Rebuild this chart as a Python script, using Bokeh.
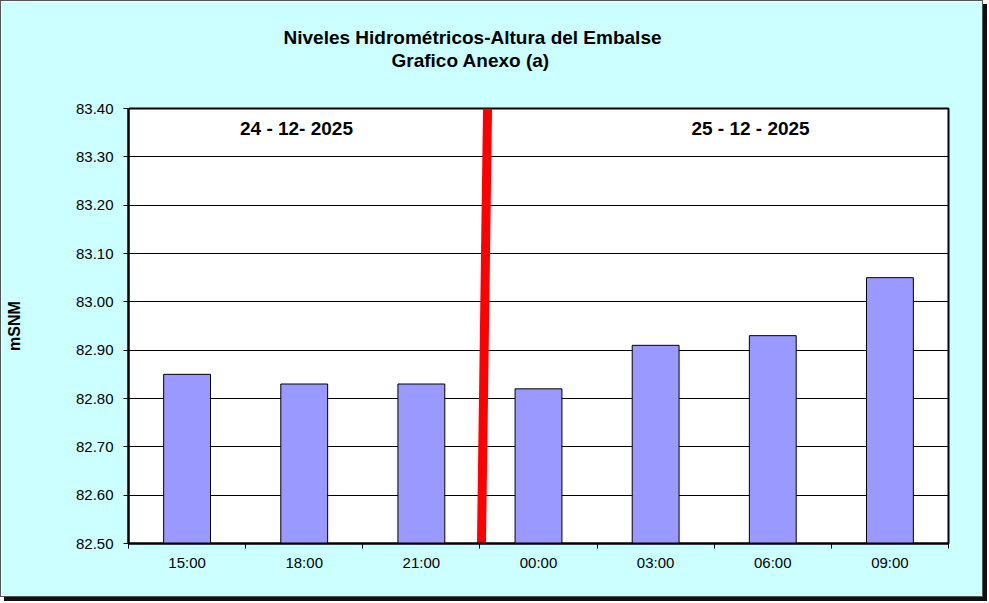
from bokeh.plotting import figure
from bokeh.models import Range1d, FixedTicker, Label, NumeralTickFormatter, Title, LinearAxis
from bokeh.embed import file_html
from bokeh.resources import INLINE

times = ["15:00", "18:00", "21:00", "00:00", "03:00", "06:00", "09:00"]
levels = [82.85, 82.83, 82.83, 82.82, 82.91, 82.93, 83.05]
y_ticks = [82.5, 82.6, 82.7, 82.8, 82.9, 83.0, 83.1, 83.2, 83.3, 83.4]
separator_x = [3.065, 3.013]
date_labels = ["24 - 12- 2025", "25 - 12 - 2025"]
date_label_x = [1.434, 5.31]
title_lines = ["Niveles Hidrométricos-Altura del Embalse", "Grafico Anexo (a)"]

FONT = "Liberation Sans"
BG = "#CCFFFF"
ymin, ymax = 82.5, 83.4
ppu = 435 / (ymax - ymin)

p = figure(width=983, height=597, output_backend="svg", toolbar_location=None,
           title_location=None,
           x_range=Range1d(0, len(times)), y_range=Range1d(ymin, ymax),
           min_border_left=127, min_border_right=36, min_border_top=107, min_border_bottom=55)
p.styles = {"border": "1px solid #555555", "box-shadow": "4px 4px 0 #111111"}
p.border_fill_color = BG
p.background_fill_color = "white"
p.outline_line_color = "black"
p.outline_line_width = 2

centers = [i + 0.5 for i in range(len(times))]
p.vbar(x=centers, top=levels, bottom=ymin, width=0.4, fill_color="#9999FF",
       line_color="black", line_width=1)

p.line(x=separator_x, y=[ymax, ymin], line_color="#FF0000", line_width=9)

# axes
xa = p.xaxis[0]
xa.ticker = FixedTicker(ticks=centers, minor_ticks=list(range(len(times) + 1)))
xa.major_label_overrides = {c: t for c, t in zip(centers, times)}
xa.major_tick_out = 0
xa.major_tick_in = 0
xa.minor_tick_out = 5
xa.minor_tick_in = 0
xa.minor_tick_line_color = "black"
xa.axis_line_color = "black"
xa.axis_line_width = 2
xa.major_label_text_font = FONT
xa.major_label_text_font_size = "15px"
xa.major_label_text_color = "black"
xa.major_label_standoff = 5

ya = p.yaxis[0]
ya.ticker = FixedTicker(ticks=y_ticks, minor_ticks=[])
ya.formatter = NumeralTickFormatter(format="0.00")
ya.major_tick_out = 5
ya.major_tick_in = 0
ya.major_tick_line_color = "black"
ya.axis_line_color = "black"
ya.axis_line_width = 2
ya.major_label_text_font = FONT
ya.major_label_text_font_size = "15px"
ya.major_label_text_color = "black"
ya.major_label_standoff = 10
ya.axis_label = "mSNM"
ya.axis_label_text_font = FONT
ya.axis_label_text_font_size = "16px"
ya.axis_label_text_font_style = "bold"
ya.axis_label_text_color = "black"
ya.axis_label_standoff = 50

p.xgrid.grid_line_color = None
p.ygrid.ticker = FixedTicker(ticks=y_ticks)
p.ygrid.grid_line_color = "black"
p.ygrid.grid_line_width = 1

for txt, xx in zip(date_labels, date_label_x):
    p.add_layout(Label(x=xx, y=ymax - 20 / ppu, text=txt, text_align="center",
                       text_baseline="middle", text_font=FONT, text_font_size="19px",
                       text_font_style="bold", text_color="black"))

# near-empty axis used as a spacer between the frame and the title lines
spacer = LinearAxis(ticker=FixedTicker(ticks=[0.0], minor_ticks=[]), axis_line_color=None,
                    major_tick_out=38, major_tick_in=0, major_tick_line_color=BG,
                    minor_tick_out=0, minor_tick_in=0, minor_tick_line_color=None,
                    major_label_standoff=0, major_label_overrides={0: ""})
p.add_layout(spacer, "above")
# two title lines (both centred at the same x, left of the frame centre)
p.add_layout(Title(text=title_lines[1], align="left", offset=263, standoff=0,
                   text_font=FONT, text_font_size="19px", text_font_style="bold",
                   text_color="black"), "above")
p.add_layout(Title(text=title_lines[0], align="left", offset=155, standoff=0,
                   text_font=FONT, text_font_size="19px", text_font_style="bold",
                   text_color="black"), "above")

open("out.html", "w").write(file_html(p, INLINE))
